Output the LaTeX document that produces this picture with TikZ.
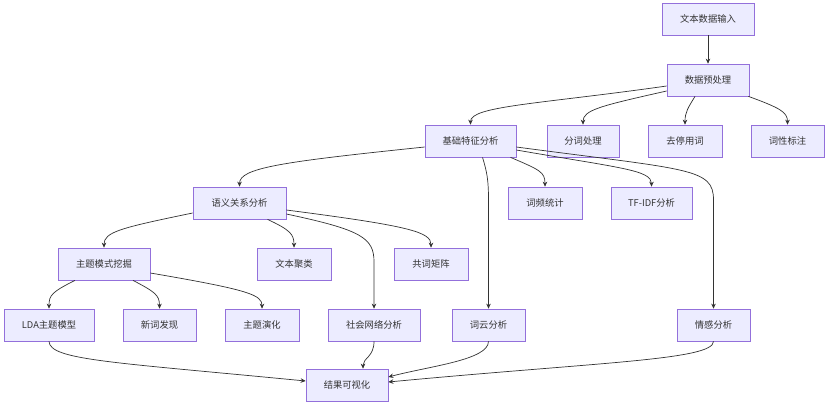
\documentclass[tikz,border=0pt]{standalone}
\usepackage{fontspec}
\setmainfont{Noto Sans CJK SC}
\usetikzlibrary{arrows.meta,calc}
\definecolor{boxfill}{HTML}{ECECFF}
\definecolor{boxline}{HTML}{9370DB}
\definecolor{edgecol}{HTML}{333333}
\tikzset{
  box/.style={draw=boxline,fill=boxfill,line width=0.7pt,minimum height=32pt,inner sep=0pt,
    text=edgecol,font=\fontsize{9.3}{11}\selectfont},
  w4/.style={box,minimum width=74pt},
  w5/.style={box,minimum width=82pt},
  w6/.style={box,minimum width=92pt},
  edge/.style={draw=edgecol,line width=0.7pt,-{Stealth[length=5pt,width=4.5pt]}}
}
\begin{document}
\begin{tikzpicture}[x=1pt,y=-1pt]
\useasboundingbox[fill=white] (0,0) rectangle (830,410);
\node[w6] (in) at (708,19) {文本数据输入};
\node[w5] (pre) at (708,80) {数据预处理};
\node[w6,minimum width=91pt] (base) at (470.5,141) {基础特征分析};
\node[w4,minimum width=72pt] (seg) at (583,141) {分词处理};
\node[w4] (stop) at (685,141) {去停用词};
\node[w4,minimum width=73pt] (pos) at (787.5,141) {词性标注};
\node[w6,minimum width=93pt] (sem) at (239.5,203) {语义关系分析};
\node[w4] (freq) at (545,203) {词频统计};
\node[w5,minimum width=81pt] (tfidf) at (651.5,203) {TF-IDF分析};
\node[w6] (topic) at (104,264) {主题模式挖掘};
\node[w4] (clus) at (294,264) {文本聚类};
\node[w4] (cooc) at (431,264) {共词矩阵};
\node[w6,minimum width=90pt] (lda) at (49,325) {LDA主题模型};
\node[w4,minimum width=73pt] (neww) at (159.5,325) {新词发现};
\node[w4] (evol) at (262,325) {主题演化};
\node[w6] (sna) at (374,325) {社会网络分析};
\node[w4,minimum width=73pt] (cloud) at (488.5,325) {词云分析};
\node[w4,minimum width=73pt] (senti) at (713.5,325) {情感分析};
\node[w5] (vis) at (347,385) {结果可视化};

\draw[edge] (in.south) -- (pre.north);
\draw[edge] ($(pre.west)+(0,6)$) .. controls (540,104) and (470.5,106) .. (base.north);
\draw[edge] ($(pre.west)+(0,11)$) .. controls (600,106) and (583,110) .. (seg.north);
\draw[edge] ($(pre.south)+(-13,0)$) .. controls (688,108) and (685,112) .. (stop.north);
\draw[edge] ($(pre.south east)+(-1,0)$) .. controls (780,108) and (787.5,112) .. (pos.north);

\draw[edge] ($(base.west)+(0,6)$) .. controls (280,162) and (239.5,168) .. (sem.north);
\draw[edge] ($(base.south)+(40,0)$) .. controls (540,170) and (545,172) .. (freq.north);
\draw[edge] ($(base.east)+(0,9)$) .. controls (620,168) and (651.5,170) .. (tfidf.north);
\draw[edge] ($(base.east)+(0,6)$) .. controls (690,170) and (713.5,168) .. (713.5,200) -- (senti.north);
\draw[edge] ($(base.south)+(12,0)$) .. controls (487,172) and (488.5,180) .. (488.5,200) -- (cloud.north);

\draw[edge] ($(sem.west)+(0,10)$) .. controls (120,228) and (104,232) .. (topic.north);
\draw[edge] ($(sem.south)+(28,0)$) .. controls (290,230) and (294,234) .. (clus.north);
\draw[edge] ($(sem.east)+(0,7)$) .. controls (410,226) and (431,232) .. (cooc.north);
\draw[edge] ($(sem.east)+(0,11)$) .. controls (362,230) and (374,238) .. (374,262) -- (sna.north);

\draw[edge] ($(topic.south)+(-29,0)$) .. controls (52,292) and (49,295) .. (lda.north);
\draw[edge] ($(topic.south)+(29,0)$) .. controls (155,292) and (159.5,295) .. (neww.north);
\draw[edge] ($(topic.east)+(0,9)$) .. controls (250,290) and (262,295) .. (evol.north);

\draw[edge] (lda.south) .. controls (50,360) and (110,362) .. ($(vis.west)+(0,-4)$);
\draw[edge] (sna.south) .. controls (374,357) and (363,358) .. ($(vis.north)+(16,0)$);
\draw[edge] (cloud.south) .. controls (488.5,360) and (430,366) .. ($(vis.east)+(0,-8)$);
\draw[edge] (senti.south) .. controls (713.5,360) and (600,362) .. ($(vis.east)+(0,-3)$);
\end{tikzpicture}
\end{document}
